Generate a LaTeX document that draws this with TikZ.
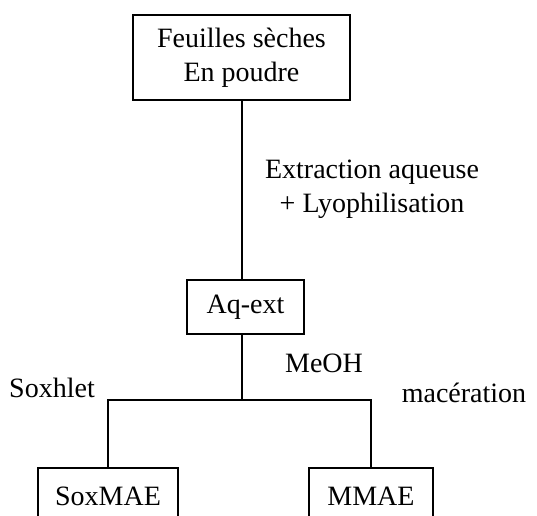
\documentclass[tikz,border=0pt]{standalone}
\usepackage{fontspec}
\setmainfont{Liberation Serif}
\begin{document}
\begin{tikzpicture}[x=0.75pt,y=-0.75pt,
  every node/.style={font=\fontsize{21}{25.5}\selectfont, inner sep=0pt},
  box/.style={draw, line width=1.3pt, align=center},
  conn/.style={line width=1.3pt},
  lbl/.style={align=center}]
\useasboundingbox (0,0) rectangle (537,516);
\node[box, minimum width=162.75pt, minimum height=63.75pt] (top) at (241.5,57.5) {Feuilles sèches\\En poudre};
\node[box, minimum width=87.75pt, minimum height=40.5pt] (aq) at (245.5,307) {Aq-ext};
\node[box, minimum width=105pt, minimum height=42pt] (sox) at (108,496) {SoxMAE};
\node[box, minimum width=93pt, minimum height=42pt] (mmae) at (371,496) {MMAE};
\coordinate (j) at (242,400);
\node[lbl] (ext) at (372,189) {Extraction aqueuse\\+ Lyophilisation};
\node[lbl] (meoh) at (324,363) {MeOH};
\node[lbl] (soxl) at (52,388) {Soxhlet};
\node[lbl] (mac) at (464,393) {macération};
\draw[conn] (top.south -| j) -- (aq.north -| j);
\draw[conn] (aq.south -| j) -- (j);
\draw[conn] (sox.north) -- (sox.north |- j) -- (mmae.north |- j) -- (mmae.north);
\end{tikzpicture}
\end{document}
